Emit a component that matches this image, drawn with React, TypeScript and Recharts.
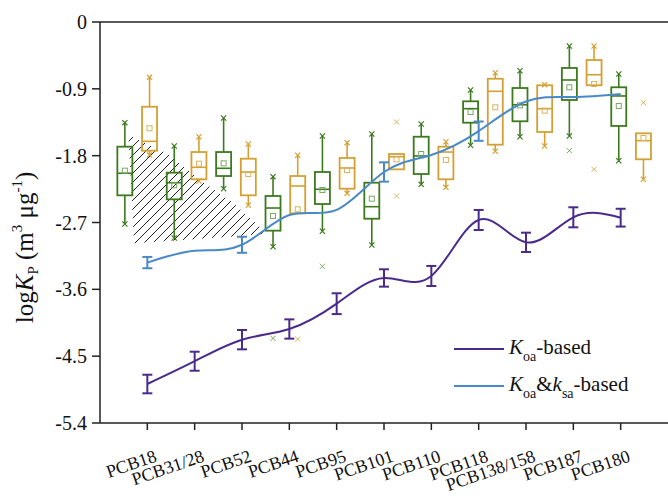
import React from "react";
import {
  ComposedChart,
  Line,
  Area,
  Bar,
  XAxis,
  YAxis,
  ErrorBar,
  ReferenceLine,
  Legend,
} from "recharts";

const CATEGORIES = [
  "PCB18",
  "PCB31/28",
  "PCB52",
  "PCB44",
  "PCB95",
  "PCB101",
  "PCB110",
  "PCB118",
  "PCB138/158",
  "PCB187",
  "PCB180",
];

// model lines
const KOA_BASED = [-4.875, -4.568, -4.278, -4.134, -3.793, -3.447, -3.42, -2.666, -2.967, -2.63, -2.635];
const KOA_BASED_ERR = [0.125, 0.128, 0.13, 0.13, 0.14, 0.117, 0.135, 0.135, 0.13, 0.135, 0.12];
const KOA_KSA_BASED = [-3.24, -3.08, -3.0, -2.6, -2.53, -2.02, -1.79, -1.47, -1.07, -1.01, -0.97];
const KOA_KSA_ERR = [0.076, null, 0.108, null, null, 0.13, null, 0.13, null, null, null];

// measured boxes: [min, q1, median, q3, max, mean]
const GREEN_STATS = [
  [-2.72, -2.334, -2.037, -1.679, -1.356, -2.002],
  [-2.909, -2.388, -2.164, -2.029, -1.67, -2.199],
  [-2.245, -2.074, -1.97, -1.751, -1.293, -1.903],
  [-3.026, -2.81, -2.505, -2.343, -2.083, -2.612],
  [-2.818, -2.451, -2.253, -2.02, -1.535, -2.262],
  [-3.003, -2.649, -2.487, -2.164, -1.508, -2.379],
  [-2.186, -2.047, -1.804, -1.545, -1.374, -1.778],
  [-1.66, -1.356, -1.167, -1.068, -0.916, -1.212],
  [-1.545, -1.337, -1.114, -0.889, -0.656, -1.122],
  [-1.535, -1.05, -0.781, -0.619, -0.323, -0.879],
  [-1.868, -1.4, -0.996, -0.879, -0.7, -1.131],
];
const ORANGE_STATS = [
  [-1.791, -1.733, -1.607, -1.141, -0.745, -1.431],
  [-2.141, -2.118, -1.957, -1.751, -1.545, -1.908],
  [-2.468, -2.334, -2.02, -1.841, -1.643, -2.047],
  [-2.576, -2.576, -2.208, -2.074, -1.795, -2.522],
  [-2.307, -2.245, -1.966, -1.831, -1.625, -1.993],
  [-1.984, -1.984, -1.814, -1.778, -1.778, -1.849],
  [-2.226, -2.118, -1.751, -1.679, -1.612, -1.858],
  [-1.741, -1.652, -0.933, -0.764, -0.683, -1.149],
  [-1.67, -1.481, -1.167, -0.852, -0.844, -1.194],
  [-0.852, -0.852, -0.71, -0.512, -0.323, -0.835],
  [-2.118, -1.849, -1.598, -1.499, -1.499, -1.562],
];
const GREEN_OUTLIERS = [[], [], [], [-4.26], [-3.29], [], [], [], [], [-1.733], []];
const ORANGE_OUTLIERS = [[], [], [], [-4.27], [], [-1.347, -2.343], [], [], [], [-1.984], [-1.086]];

const Y_TICKS = [0, -0.9, -1.8, -2.7, -3.6, -4.5, -5.4];

// hatched region outline: x, [lower, upper]
const HATCH_X = [-0.4, -0.28, 0.42, 1.12, 1.82, 2.53];
const HATCH_LOW = [-1.52, -2.98, -2.95, -2.92, -2.89, -2.85];
const HATCH_HIGH = [-1.52, -1.56, -1.77, -2.13, -2.44, -2.85];

const PURPLE = "#4a2b8c";
const BLUE = "#4a89c8";
const GREEN = "#3c7a1e";
const ORANGE = "#d4a033";
const GREEN_LIGHT = "#7aa865";
const ORANGE_LIGHT = "#dcb25c";
const AXIS = "#222";
const FONT = "Liberation Serif";

const CHART_W = 668;
const CHART_H = 499;
const X_AXIS_H = 76;
const PLOT_BOTTOM = CHART_H - X_AXIS_H;

const lineData = CATEGORIES.map((name, i) => ({
  x: i,
  name,
  koa: KOA_BASED[i],
  koaErr: KOA_BASED_ERR[i],
  ksa: KOA_KSA_BASED[i],
  ksaErr: KOA_KSA_ERR[i],
}));

const hatchData = HATCH_X.map((x, i) => ({ x, band: [HATCH_LOW[i], HATCH_HIGH[i]] }));

const boxData = CATEGORIES.flatMap((name, i) => [
  {
    name,
    pos: i + 0.5,
    range: [GREEN_STATS[i][1], GREEN_STATS[i][3]],
    stats: GREEN_STATS[i],
    outliers: GREEN_OUTLIERS[i],
    color: GREEN,
    light: GREEN_LIGHT,
  },
  {
    name,
    pos: i + 1,
    range: [ORANGE_STATS[i][1], ORANGE_STATS[i][3]],
    stats: ORANGE_STATS[i],
    outliers: ORANGE_OUTLIERS[i],
    color: ORANGE,
    light: ORANGE_LIGHT,
  },
]);

const Cross = ({ cx, cy, r, color, w = 1.2 }: any) => (
  <path
    d={`M${cx - r},${cy - r}L${cx + r},${cy + r}M${cx - r},${cy + r}L${cx + r},${cy - r}`}
    stroke={color}
    strokeWidth={w}
    fill="none"
  />
);

// draws one box; pixel positions of the other stats come from the bar's own q1..q3 extent
const BoxShape = (props: any) => {
  const { x, y, width, height, payload } = props;
  if (x == null || y == null || !payload) return null;
  const [lo, hi] = payload.range;
  const toY = (v: number) => y + ((hi - v) / (hi - lo)) * height;
  const [mn, q1, med, q3, mx, mean] = payload.stats;
  const cx = x + width / 2;
  const c = payload.color;
  const yTop = toY(q3);
  const yBot = toY(q1);
  return (
    <g>
      {mx > q3 + 0.005 && (
        <>
          <line x1={cx} y1={yTop} x2={cx} y2={toY(mx)} stroke={c} strokeWidth={1.6} />
          <Cross cx={cx} cy={toY(mx)} r={2.6} color={c} />
        </>
      )}
      {mn < q1 - 0.005 && (
        <>
          <line x1={cx} y1={yBot} x2={cx} y2={toY(mn)} stroke={c} strokeWidth={1.6} />
          <Cross cx={cx} cy={toY(mn)} r={2.6} color={c} />
        </>
      )}
      <rect x={x} y={Math.min(yTop, yBot)} width={width} height={Math.abs(yBot - yTop)} fill="none" stroke={c} strokeWidth={1.8} />
      <line x1={x} y1={toY(med)} x2={x + width} y2={toY(med)} stroke={c} strokeWidth={1.6} />
      <rect x={cx - 2.5} y={toY(mean) - 2.5} width={5} height={5} fill="none" stroke={payload.light} strokeWidth={1} />
      {payload.outliers.map((o: number, k: number) => (
        <Cross key={k} cx={cx} cy={toY(o)} r={2.6} color={payload.light} w={1} />
      ))}
    </g>
  );
};

// rotated label; its end sits right of the tick, below the axis line
const XTick = ({ x, payload }: any) => {
  const ax = x + 10.5;
  const ay = PLOT_BOTTOM + 38;
  return (
    <text
      x={ax}
      y={ay}
      textAnchor="end"
      transform={`rotate(-19, ${ax}, ${ay})`}
      fontFamily={FONT}
      fontSize={18}
      fill="#111"
      stroke="none"
    >
      {CATEGORIES[payload.value]}
    </text>
  );
};

const YLabel = ({ viewBox }: any) => {
  const cx = (viewBox?.x ?? 0) + 33;
  const cy = (viewBox?.y ?? 0) + (viewBox?.height ?? 0) / 2 + 25;
  return (
    <text
      x={cx}
      y={cy}
      transform={`rotate(-90, ${cx}, ${cy})`}
      textAnchor="middle"
      fontFamily={FONT}
      fontSize={25}
      fill="#111"
    >
      log<tspan fontStyle="italic">K</tspan>
      <tspan fontSize={15} dy={5}>P</tspan>
      <tspan dy={-5}> (m</tspan>
      <tspan fontSize={15} dy={-11}>3</tspan>
      <tspan dy={11}> μg</tspan>
      <tspan fontSize={15} dy={-11}>-1</tspan>
      <tspan dy={11}>)</tspan>
    </text>
  );
};

const sub = { fontSize: 14, position: "relative" as const, top: 7 };

const LegendBox = () => (
  <div style={{ fontFamily: FONT, fontSize: 21, color: "#111", lineHeight: "24px" }}>
    {[
      { color: PURPLE, label: (<><i>K</i><span style={sub}>oa</span>-based</>) },
      { color: BLUE, label: (<><i>K</i><span style={sub}>oa</span>&amp;<i>k</i><span style={sub}>sa</span>-based</>) },
    ].map((row, i) => (
      <div key={i} style={{ display: "flex", alignItems: "center", height: 37 }}>
        <svg width={50} height={4} style={{ marginRight: 5 }}>
          <line x1={0} y1={2} x2={50} y2={2} stroke={row.color} strokeWidth={2} />
        </svg>
        <span style={{ whiteSpace: "nowrap" }}>{row.label}</span>
      </div>
    ))}
  </div>
);

export default function App() {
  return (
    <div style={{ position: "absolute", left: 0, top: 0, width: CHART_W, height: CHART_H, background: "#fff" }}>
      <ComposedChart
        width={CHART_W}
        height={CHART_H}
        data={boxData}
        margin={{ top: 22, right: 0, bottom: 0, left: 0 }}
      >
        <defs>
          <pattern id="hatch" patternUnits="userSpaceOnUse" width={9} height={9}>
            <path d="M-2,2 L2,-2 M0,9 L9,0 M7,11 L11,7" stroke="#222" strokeWidth={1} />
          </pattern>
        </defs>
        <XAxis
          xAxisId="box"
          dataKey="pos"
          type="number"
          domain={[0, 11.5]}
          allowDataOverflow
          orientation="top"
          height={0}
          hide
        />
        <XAxis
          xAxisId="main"
          dataKey="x"
          type="number"
          domain={[-1, 11]}
          ticks={CATEGORIES.map((_, i) => i)}
          allowDataOverflow
          interval={0}
          height={X_AXIS_H}
          tickSize={7}
          tick={<XTick />}
          axisLine={{ stroke: AXIS, strokeWidth: 1.5 }}
          tickLine={{ stroke: AXIS, strokeWidth: 1.5 }}
        />
        <YAxis
          type="number"
          domain={[-5.4, 0]}
          ticks={Y_TICKS}
          allowDataOverflow
          interval={0}
          width={100}
          tickSize={8}
          tickMargin={5}
          tickFormatter={(v: number) => (v === 0 ? "0" : v.toFixed(1))}
          tick={{ fontSize: 20, fontFamily: FONT, fill: "#111" }}
          axisLine={{ stroke: AXIS, strokeWidth: 1.5 }}
          tickLine={{ stroke: AXIS, strokeWidth: 1.5 }}
          label={<YLabel />}
        />
        <ReferenceLine xAxisId="main" y={0} stroke={AXIS} strokeWidth={1.5} ifOverflow="visible" />
        <Area
          xAxisId="main"
          data={hatchData}
          dataKey="band"
          type="linear"
          fill="url(#hatch)"
          fillOpacity={1}
          stroke="none"
          isAnimationActive={false}
          legendType="none"
        />
        <Bar
          xAxisId="box"
          dataKey="range"
          barSize={15}
          shape={<BoxShape />}
          isAnimationActive={false}
          legendType="none"
        />
        <Line
          xAxisId="main"
          data={lineData}
          dataKey="koa"
          type="natural"
          stroke={PURPLE}
          strokeWidth={2}
          dot={false}
          isAnimationActive={false}
        >
          <ErrorBar dataKey="koaErr" width={5} stroke={PURPLE} strokeWidth={2} direction="y" />
        </Line>
        <Line
          xAxisId="main"
          data={lineData}
          dataKey="ksa"
          type="natural"
          stroke={BLUE}
          strokeWidth={2}
          dot={false}
          isAnimationActive={false}
        >
          <ErrorBar dataKey="ksaErr" width={5} stroke={BLUE} strokeWidth={2} direction="y" />
        </Line>
        <Legend
          layout="horizontal"
          verticalAlign="middle"
          align="center"
          content={<LegendBox />}
          wrapperStyle={{ position: "absolute", left: 454, top: 330, width: 220 }}
        />
      </ComposedChart>
    </div>
  );
}
